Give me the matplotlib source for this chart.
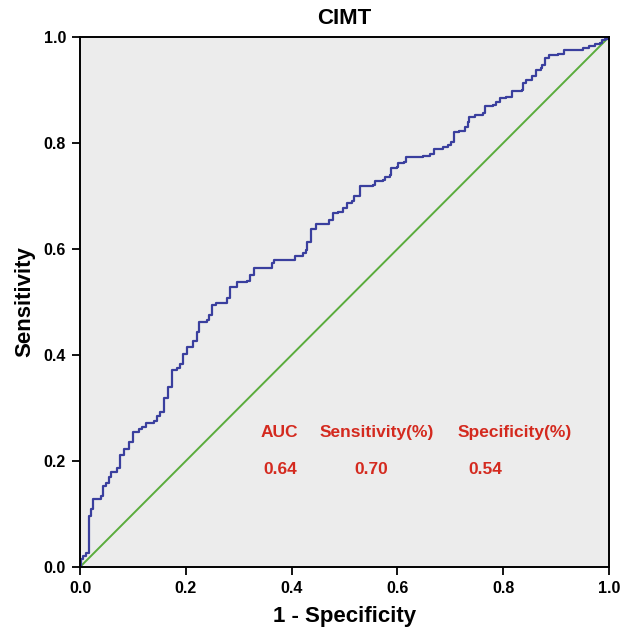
import matplotlib
matplotlib.use("Agg")
import matplotlib.pyplot as plt

# ROC curve for CIMT
fpr = [0.0, 0.002, 0.006, 0.011, 0.017, 0.021, 0.025, 0.040, 0.044, 0.049,
       0.054, 0.059, 0.069, 0.076, 0.084, 0.093, 0.101, 0.112, 0.117, 0.124,
       0.139, 0.145, 0.151, 0.158, 0.159, 0.166, 0.167, 0.173, 0.173, 0.183,
       0.189, 0.195, 0.203, 0.213, 0.222, 0.225, 0.240, 0.244, 0.249, 0.258,
       0.272, 0.277, 0.284, 0.296, 0.315, 0.321, 0.329, 0.358, 0.362, 0.367,
       0.402, 0.406, 0.421, 0.427, 0.430, 0.436, 0.447, 0.466, 0.471, 0.479,
       0.488, 0.497, 0.504, 0.514, 0.518, 0.529, 0.554, 0.558, 0.573, 0.577,
       0.586, 0.588, 0.599, 0.602, 0.612, 0.616, 0.649, 0.662, 0.669, 0.687,
       0.696, 0.701, 0.707, 0.717, 0.728, 0.734, 0.736, 0.747, 0.755, 0.761,
       0.766, 0.780, 0.786, 0.794, 0.805, 0.816, 0.835, 0.837, 0.844, 0.854,
       0.862, 0.871, 0.874, 0.879, 0.887, 0.904, 0.914, 0.950, 0.963, 0.974,
       0.983, 0.986, 0.992, 1.0]
tpr = [0.0, 0.015, 0.021, 0.027, 0.096, 0.109, 0.128, 0.133, 0.152, 0.159,
       0.170, 0.180, 0.186, 0.211, 0.222, 0.235, 0.255, 0.260, 0.265, 0.272,
       0.276, 0.284, 0.293, 0.299, 0.318, 0.321, 0.340, 0.342, 0.372, 0.375,
       0.383, 0.402, 0.415, 0.427, 0.444, 0.463, 0.466, 0.475, 0.494, 0.499,
       0.499, 0.507, 0.529, 0.538, 0.540, 0.551, 0.564, 0.565, 0.573, 0.579,
       0.579, 0.587, 0.592, 0.599, 0.614, 0.637, 0.647, 0.647, 0.655, 0.667,
       0.670, 0.677, 0.686, 0.691, 0.700, 0.718, 0.721, 0.728, 0.730, 0.735,
       0.740, 0.752, 0.755, 0.762, 0.765, 0.773, 0.775, 0.780, 0.788, 0.793,
       0.797, 0.801, 0.821, 0.823, 0.830, 0.840, 0.849, 0.853, 0.853, 0.857,
       0.870, 0.872, 0.878, 0.884, 0.887, 0.898, 0.900, 0.913, 0.919, 0.926,
       0.937, 0.941, 0.948, 0.960, 0.966, 0.968, 0.975, 0.979, 0.983, 0.986,
       0.989, 0.995, 0.997, 1.0]

ref_line = [0.0, 1.0]
ticks = [0.0, 0.2, 0.4, 0.6, 0.8, 1.0]
tick_labels = ["0.0", "0.2", "0.4", "0.6", "0.8", "1.0"]

stat_names = ["AUC", "Sensitivity(%)", "Specificity(%)"]
stat_values = ["0.64", "0.70", "0.54"]
name_x = [0.377, 0.561, 0.822]
value_x = [0.378, 0.550, 0.767]

plt.rcParams["font.family"] = ["Liberation Sans", "DejaVu Sans"]
plt.rcParams["font.weight"] = "bold"

fig = plt.figure(figsize=(6.3, 6.29), dpi=100)
ax = fig.add_axes([0.127, 0.0986, 0.8397, 0.8426])
ax.set_facecolor("#ececec")

ax.plot(ref_line, ref_line, color="#5aac3c", lw=1.4)
ax.plot(fpr, tpr, color="#3a3f9e", lw=1.6, drawstyle="steps-post")

red = "#d42a1f"
for nx, name in zip(name_x, stat_names):
    ax.text(nx, 0.254, name, color=red, fontsize=12.5, fontweight="bold",
            ha="center", va="center")
for vx, val in zip(value_x, stat_values):
    ax.text(vx, 0.183, val, color=red, fontsize=12.5, fontweight="bold",
            ha="center", va="center")

ax.set_xlim(0, 1); ax.set_ylim(0, 1)
ax.set_xticks(ticks); ax.set_xticklabels(tick_labels)
ax.set_yticks(ticks); ax.set_yticklabels(tick_labels)
ax.tick_params(direction="out", length=6, width=1.3, labelsize=11.5, pad=4)
for lab in ax.get_xticklabels() + ax.get_yticklabels():
    lab.set_fontweight("bold")
for s in ax.spines.values():
    s.set_linewidth(1.4)

ax.set_title("CIMT", fontsize=16, fontweight="bold", pad=9)
ax.set_xlabel("1 - Specificity", fontsize=16, fontweight="bold", labelpad=7)
ax.set_ylabel("Sensitivity", fontsize=16, fontweight="bold", labelpad=6)

fig.savefig("out.png", dpi=100)
